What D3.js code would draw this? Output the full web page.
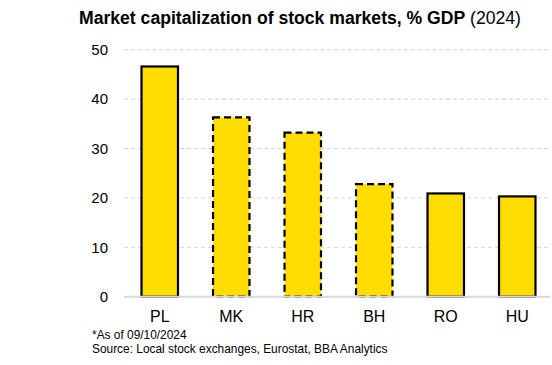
<!DOCTYPE html>
<html>
<head>
<meta charset="utf-8">
<script src="https://cdn.jsdelivr.net/npm/d3@7"></script>
<style>
    body { margin: 0; background: #fff; }
    text { font-family: Arial, "Liberation Sans", sans-serif; fill: #000; }
</style>
</head>
<body>
<div id="chart"></div>
<script>
// market cap of stock markets, % of GDP
const countries = ["PL", "MK", "HR", "BH", "RO", "HU"];
const marketCap = [46.6, 36.3, 33.2, 22.8, 20.9, 20.3];
const estimated = [false, true, true, true, false, false]; // dashed outline
const yTicks = [0, 10, 20, 30, 40, 50];

const data = countries.map((c, i) => ({ name: c, value: marketCap[i], dashed: estimated[i] }));

const width = 552, height = 365;
const margin = { top: 50, right: 2, bottom: 68, left: 124 };

const svg = d3.select("#chart").append("svg")
    .attr("width", width)
    .attr("height", height);

// scales
let x = d3.scaleBand()
    .domain(countries)
    .range([margin.left, 553])
    .paddingInner(0.49)
    .paddingOuter(0.245);

let y = d3.scaleLinear()
    .domain([0, 50])
    .range([296.7, 49.7]);

// gridlines
svg.append("g")
    .selectAll("line")
    .data(yTicks.filter(d => d > 0))
    .enter()
    .append("line")
    .attr("x1", margin.left)
    .attr("x2", 550)
    .attr("y1", d => y(d))
    .attr("y2", d => y(d))
    .attr("stroke", "#d4d4d4")
    .attr("stroke-width", 1)
    .attr("stroke-dasharray", "4,3");

// y axis labels
let yAxis = d3.axisLeft(y).tickValues(yTicks).tickSize(0).tickPadding(16);
svg.append("g")
    .attr("transform", "translate(" + margin.left + ",0)")
    .call(yAxis)
    .call(g => g.select(".domain").remove())
    .selectAll("text")
    .style("font-size", "15px")
    .style("font-family", "Arial, 'Liberation Sans', sans-serif")
    .attr("fill", "#000");

// bars
svg.selectAll(".bar")
    .data(data)
    .enter()
    .append("rect")
    .attr("class", "bar")
    .attr("x", d => x(d.name))
    .attr("width", x.bandwidth())
    .attr("y", d => y(d.value))
    .attr("height", d => y(0) - y(d.value))
    .attr("fill", "#FFDD00")
    .attr("stroke", "#000")
    .attr("stroke-width", 2.2)
    .attr("stroke-dasharray", d => d.dashed ? "7,4" : null);

// baseline
svg.append("line")
    .attr("x1", margin.left)
    .attr("x2", 550)
    .attr("y1", y(0))
    .attr("y2", y(0))
    .attr("stroke", "#d9d9d9")
    .attr("stroke-width", 2);

// x axis labels
let xAxis = d3.axisBottom(x).tickSize(0).tickPadding(14);
svg.append("g")
    .attr("transform", "translate(0," + y(0) + ")")
    .call(xAxis)
    .call(g => g.select(".domain").remove())
    .selectAll("text")
    .style("font-size", "16px")
    .style("font-family", "Arial, 'Liberation Sans', sans-serif")
    .attr("fill", "#000");

// title
let title = svg.append("text")
    .attr("x", 79)
    .attr("y", 24)
    .style("font-size", "17.6px");
title.append("tspan").style("font-weight", "bold").text("Market capitalization of stock markets, % GDP");
title.append("tspan").text(" (2024)");

// footnotes
svg.append("text")
    .attr("x", 92)
    .attr("y", 339)
    .style("font-size", "11.9px")
    .text("*As of 09/10/2024");

svg.append("text")
    .attr("x", 92)
    .attr("y", 353)
    .style("font-size", "11.9px")
    .text("Source: Local stock exchanges, Eurostat, BBA Analytics");
</script>
</body>
</html>
